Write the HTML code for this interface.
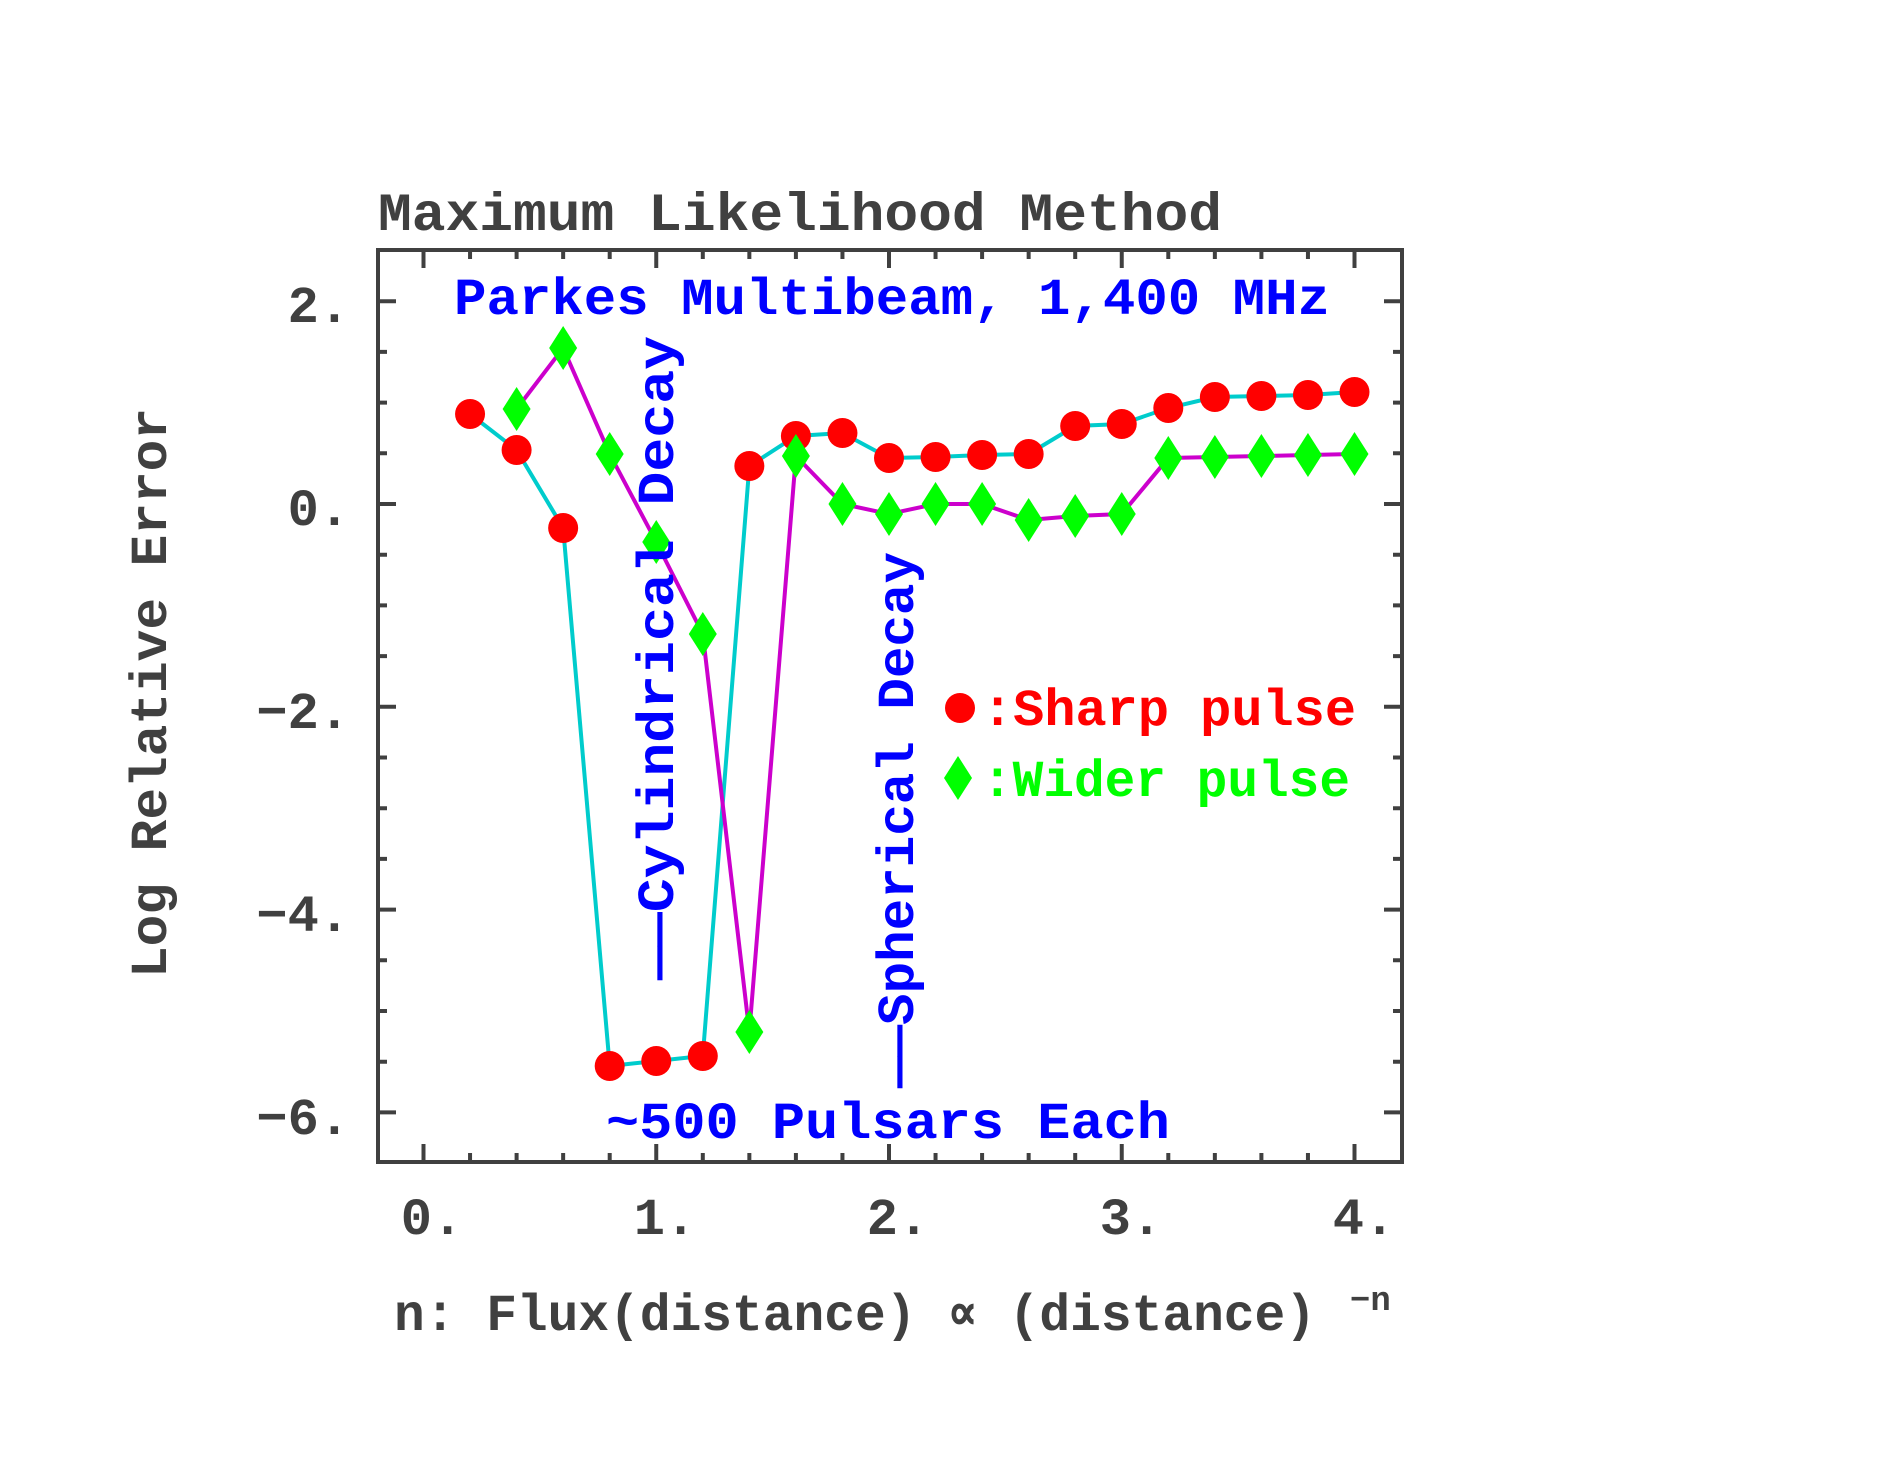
<!DOCTYPE html>
<html><head><meta charset="utf-8"><style>
html,body{margin:0;padding:0;background:#fff}
svg{display:block}
text{font-family:"Liberation Mono","DejaVu Sans Mono",monospace;font-weight:bold}
</style></head><body>
<svg width="1882" height="1458" viewBox="0 0 1882 1458" xmlns="http://www.w3.org/2000/svg">
<defs>
<path id="d" d="M0,-22 L14,0 L0,22 L-14,0Z" fill="#00ff00"/>
</defs>
<rect x="378" y="250" width="1024" height="912" fill="none" stroke="#404040" stroke-width="4"/>
<g stroke="#404040" stroke-width="4" fill="none">
<path d="M423.5,1162v-18M656.25,1162v-18M889,1162v-18M1121.75,1162v-18M1354.5,1162v-18M423.5,250v18M656.25,250v18M889,250v18M1121.75,250v18M1354.5,250v18"/>
<path d="M470.05,1162v-9M516.6,1162v-9M563.15,1162v-9M609.7,1162v-9M702.8,1162v-9M749.35,1162v-9M795.9,1162v-9M842.45,1162v-9M935.55,1162v-9M982.1,1162v-9M1028.65,1162v-9M1075.2,1162v-9M1168.3,1162v-9M1214.85,1162v-9M1261.4,1162v-9M1307.95,1162v-9
M470.05,250v9M516.6,250v9M563.15,250v9M609.7,250v9M702.8,250v9M749.35,250v9M795.9,250v9M842.45,250v9M935.55,250v9M982.1,250v9M1028.65,250v9M1075.2,250v9M1168.3,250v9M1214.85,250v9M1261.4,250v9M1307.95,250v9"/>
<path d="M378,301.2h18M378,504h18M378,706.8h18M378,909.6h18M378,1112.4h18M1402,301.2h-18M1402,504h-18M1402,706.8h-18M1402,909.6h-18M1402,1112.4h-18"/>
<path d="M378,351.9h9M378,402.6h9M378,453.3h9M378,554.7h9M378,605.4h9M378,656.1h9M378,757.5h9M378,808.2h9M378,858.9h9M378,960.3h9M378,1011h9M378,1061.7h9
M1402,351.9h-9M1402,402.6h-9M1402,453.3h-9M1402,554.7h-9M1402,605.4h-9M1402,656.1h-9M1402,757.5h-9M1402,808.2h-9M1402,858.9h-9M1402,960.3h-9M1402,1011h-9M1402,1061.7h-9"/>
</g>
<g fill="#404040" font-size="52">
<text x="378" y="230" font-size="54" textLength="844" lengthAdjust="spacingAndGlyphs">Maximum Likelihood Method</text>
<text x="350" y="322" text-anchor="end">2.</text>
<text x="350" y="525" text-anchor="end">0.</text>
<text x="350" y="728" text-anchor="end">−2.</text>
<text x="350" y="931" text-anchor="end">−4.</text>
<text x="350" y="1134" text-anchor="end">−6.</text>
<text x="432" y="1234" text-anchor="middle">0.</text>
<text x="665" y="1234" text-anchor="middle">1.</text>
<text x="898" y="1234" text-anchor="middle">2.</text>
<text x="1131" y="1234" text-anchor="middle">3.</text>
<text x="1364" y="1234" text-anchor="middle">4.</text>
<text x="394" y="1330" textLength="922" lengthAdjust="spacingAndGlyphs">n: Flux(distance) ∝ (distance)</text>
<text x="1350" y="1310" font-size="34">−n</text>
<text transform="translate(166,693) rotate(-90)" text-anchor="middle" textLength="570" lengthAdjust="spacingAndGlyphs">Log Relative Error</text>
</g>
<polyline fill="none" stroke="#00cccc" stroke-width="4" points="470.05,414 516.6,450 563.15,528 609.7,1066 656.25,1061 702.8,1056 749.35,466 795.9,436 842.45,433 889,458 935.55,457 982.1,455 1028.65,454 1075.2,426 1121.75,424 1168.3,408 1214.85,397 1261.4,396 1307.95,395 1354.5,392"/>
<polyline fill="none" stroke="#cc00cc" stroke-width="4" points="516.6,409 563.15,348 609.7,454 656.25,542 702.8,634 749.35,1032 795.9,456 842.45,504 889,514 935.55,504 982.1,504 1028.65,520 1075.2,516 1121.75,514 1168.3,458 1214.85,457 1261.4,456 1307.95,455 1354.5,454"/>
<g fill="#ff0000">
<circle cx="470.05" cy="414" r="15"/><circle cx="516.6" cy="450" r="15"/><circle cx="563.15" cy="528" r="15"/><circle cx="609.7" cy="1066" r="15"/><circle cx="656.25" cy="1061" r="15"/><circle cx="702.8" cy="1056" r="15"/><circle cx="749.35" cy="466" r="15"/><circle cx="795.9" cy="436" r="15"/><circle cx="842.45" cy="433" r="15"/><circle cx="889" cy="458" r="15"/><circle cx="935.55" cy="457" r="15"/><circle cx="982.1" cy="455" r="15"/><circle cx="1028.65" cy="454" r="15"/><circle cx="1075.2" cy="426" r="15"/><circle cx="1121.75" cy="424" r="15"/><circle cx="1168.3" cy="408" r="15"/><circle cx="1214.85" cy="397" r="15"/><circle cx="1261.4" cy="396" r="15"/><circle cx="1307.95" cy="395" r="15"/><circle cx="1354.5" cy="392" r="15"/>
<circle cx="960" cy="708" r="15"/>
</g>
<g>
<use href="#d" x="516.6" y="409"/><use href="#d" x="563.15" y="348"/><use href="#d" x="609.7" y="454"/><use href="#d" x="656.25" y="542"/><use href="#d" x="702.8" y="634"/><use href="#d" x="749.35" y="1032"/><use href="#d" x="795.9" y="456"/><use href="#d" x="842.45" y="504"/><use href="#d" x="889" y="514"/><use href="#d" x="935.55" y="504"/><use href="#d" x="982.1" y="504"/><use href="#d" x="1028.65" y="520"/><use href="#d" x="1075.2" y="516"/><use href="#d" x="1121.75" y="514"/><use href="#d" x="1168.3" y="458"/><use href="#d" x="1214.85" y="457"/><use href="#d" x="1261.4" y="456"/><use href="#d" x="1307.95" y="455"/><use href="#d" x="1354.5" y="454"/>
<use href="#d" x="958" y="778"/>
</g>
<g font-size="52">
<text x="982" y="725" fill="#ff0000" textLength="374" lengthAdjust="spacingAndGlyphs">:Sharp pulse</text>
<text x="982" y="796" fill="#00ff00" textLength="368" lengthAdjust="spacingAndGlyphs">:Wider pulse</text>
<g fill="#0000ff">
<text x="454" y="314" textLength="876" lengthAdjust="spacingAndGlyphs">Parkes Multibeam, 1,400 MHz</text>
<text x="606" y="1138" textLength="564" lengthAdjust="spacingAndGlyphs">~500 Pulsars Each</text>
<text transform="translate(673,980) rotate(-90)" textLength="644" lengthAdjust="spacingAndGlyphs">——Cylindrical Decay</text>
<text transform="translate(913,1088) rotate(-90)" textLength="536" lengthAdjust="spacingAndGlyphs">——Spherical Decay</text>
</g>
</g>
</svg>
</body></html>
